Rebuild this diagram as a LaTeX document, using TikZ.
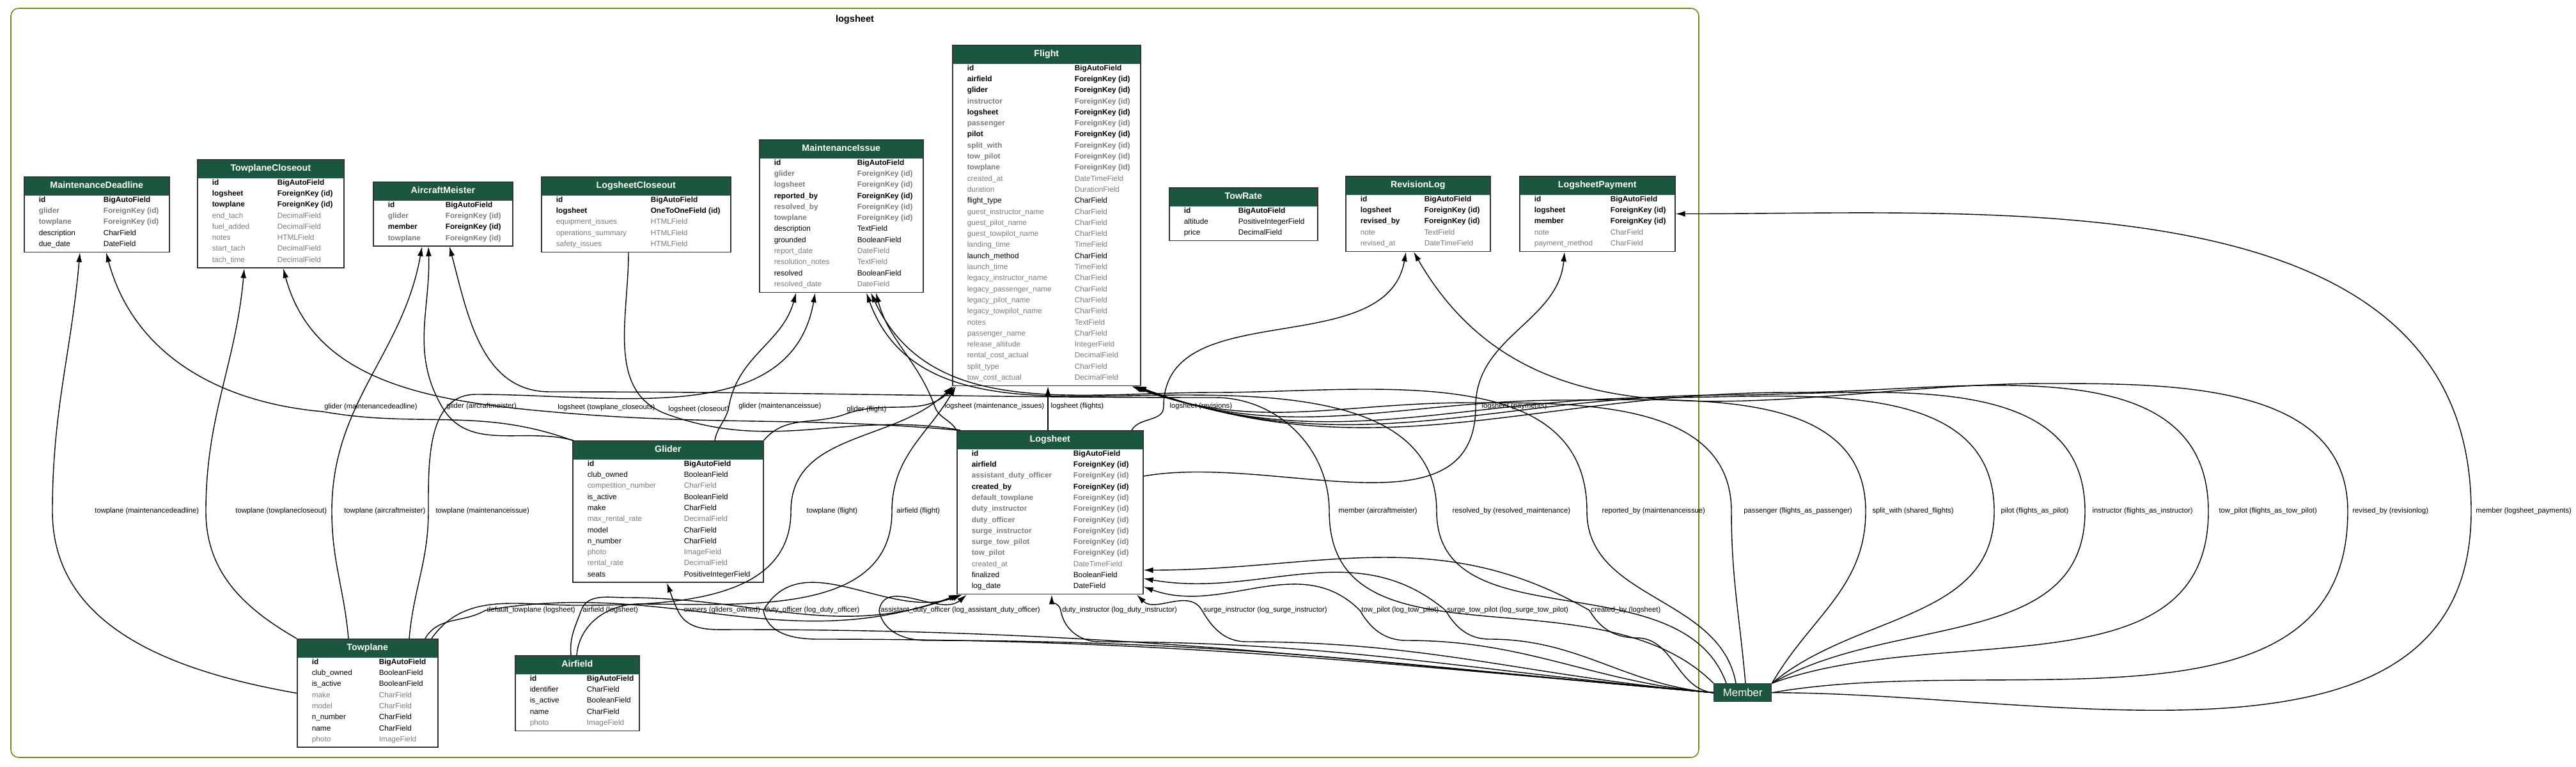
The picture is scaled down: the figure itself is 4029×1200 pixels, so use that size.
\documentclass[tikz,border=0pt]{standalone}
\usepackage{fontspec}
\setmainfont{Liberation Sans}
\usetikzlibrary{arrows.meta}

\definecolor{hdrgreen}{HTML}{1B563F}
\definecolor{fldgray}{HTML}{7B7B7B}
\definecolor{clustergreen}{HTML}{6B8E23}

% one pixel of the layout
\newdimen\pxu \pxu=0.01cm
\newdimen\tabw \newdimen\typeoff
\newcommand\rk{\color{black}\mdseries}
\newcommand\rg{\color{fldgray}\mdseries}
\newcommand\bk{\color{black}\bfseries}
\newcommand\bg{\color{fldgray}\bfseries}
% one field row: style, name, type
\newcommand\fld[3]{\hbox to \tabw{\rule[-6.9\pxu]{0pt}{17.3\pxu}\hskip 23\pxu
  \hbox to \dimexpr\typeoff-23\pxu\relax{#1#2\hss}#1#3\hss}}
% model table: width, type column, title, rows
\newcommand\modeltab[4]{\tabw=#1\pxu \typeoff=#2\pxu
  \vbox{\offinterlineskip\fontsize{3.36pt}{4.8pt}\selectfont
    \hbox to \tabw{\hss\rule[-11\pxu]{0pt}{29\pxu}{\color{white}\fontsize{4.05pt}{4.8pt}\selectfont\bfseries #3}\hss}
    #4
    \hbox{\rule{0pt}{2\pxu}}}}

\begin{document}
\begin{tikzpicture}[x=0.01cm, y=0.01cm]
        % Define block styles
        \tikzstyle{tbl} = [rectangle, draw=black!80, line width=0.45pt, inner sep=0pt,
            anchor=north west, path picture={\fill[hdrgreen] (path picture bounding box.north west)
            rectangle ([yshift=-8.25pt]path picture bounding box.north east);}]
        \tikzstyle{member} = [rectangle, draw=black!80, fill=hdrgreen, text=white, inner sep=0pt,
            anchor=north west, minimum width=0.9cm, minimum height=0.28cm,
            font=\fontsize{4.8pt}{5.6pt}\selectfont]
        \tikzstyle{lbl} = [font=\fontsize{3.2pt}{3.8pt}\selectfont, inner sep=0.5pt, anchor=west]
        \tikzstyle{fk} = [draw, line width=0.4pt, -{Latex[length=0.15cm,width=0.09cm]}]
        \tikzstyle{oto} = [draw, line width=0.4pt]

        \useasboundingbox (0,0) rectangle (4029,-1200);

        % Cluster
        \draw [clustergreen, line width=0.45pt, rounded corners=0.12cm] (17,-13) rectangle (2657,-1185);
        \node [font=\fontsize{4.15pt}{5pt}\selectfont\bfseries] (apptitle) at (1337,-31) {logsheet};

        % Nodes
        \node [tbl] (md) at (37,-276) {\modeltab{227}{124}{MaintenanceDeadline}{%
            \fld\bk{id}{BigAutoField}
            \fld\bg{glider}{ForeignKey (id)}
            \fld\bg{towplane}{ForeignKey (id)}
            \fld\rk{description}{CharField}
            \fld\rk{due\_date}{DateField}}};
        \node [tbl] (tpc) at (308,-249) {\modeltab{229}{125}{TowplaneCloseout}{%
            \fld\bk{id}{BigAutoField}
            \fld\bk{logsheet}{ForeignKey (id)}
            \fld\bk{towplane}{ForeignKey (id)}
            \fld\rg{end\_tach}{DecimalField}
            \fld\rg{fuel\_added}{DecimalField}
            \fld\rg{notes}{HTMLField}
            \fld\rg{start\_tach}{DecimalField}
            \fld\rg{tach\_time}{DecimalField}}};
        \node [tbl] (am) at (583,-284) {\modeltab{218}{113}{AircraftMeister}{%
            \fld\bk{id}{BigAutoField}
            \fld\bg{glider}{ForeignKey (id)}
            \fld\bk{member}{ForeignKey (id)}
            \fld\bg{towplane}{ForeignKey (id)}}};
        \node [tbl] (lsc) at (846,-276) {\modeltab{296}{171}{LogsheetCloseout}{%
            \fld\bk{id}{BigAutoField}
            \fld\bk{logsheet}{OneToOneField (id)}
            \fld\rg{equipment\_issues}{HTMLField}
            \fld\rg{operations\_summary}{HTMLField}
            \fld\rg{safety\_issues}{HTMLField}}};
        \node [tbl] (mi) at (1187,-218) {\modeltab{256}{153}{MaintenanceIssue}{%
            \fld\bk{id}{BigAutoField}
            \fld\bg{glider}{ForeignKey (id)}
            \fld\bg{logsheet}{ForeignKey (id)}
            \fld\bk{reported\_by}{ForeignKey (id)}
            \fld\bg{resolved\_by}{ForeignKey (id)}
            \fld\bg{towplane}{ForeignKey (id)}
            \fld\rk{description}{TextField}
            \fld\rk{grounded}{BooleanField}
            \fld\rg{report\_date}{DateField}
            \fld\rg{resolution\_notes}{TextField}
            \fld\rk{resolved}{BooleanField}
            \fld\rg{resolved\_date}{DateField}}};
        \node [tbl] (fl) at (1489,-70) {\modeltab{294}{191}{Flight}{%
            \fld\bk{id}{BigAutoField}
            \fld\bk{airfield}{ForeignKey (id)}
            \fld\bk{glider}{ForeignKey (id)}
            \fld\bg{instructor}{ForeignKey (id)}
            \fld\bk{logsheet}{ForeignKey (id)}
            \fld\bg{passenger}{ForeignKey (id)}
            \fld\bk{pilot}{ForeignKey (id)}
            \fld\bg{split\_with}{ForeignKey (id)}
            \fld\bg{tow\_pilot}{ForeignKey (id)}
            \fld\bg{towplane}{ForeignKey (id)}
            \fld\rg{created\_at}{DateTimeField}
            \fld\rg{duration}{DurationField}
            \fld\rk{flight\_type}{CharField}
            \fld\rg{guest\_instructor\_name}{CharField}
            \fld\rg{guest\_pilot\_name}{CharField}
            \fld\rg{guest\_towpilot\_name}{CharField}
            \fld\rg{landing\_time}{TimeField}
            \fld\rk{launch\_method}{CharField}
            \fld\rg{launch\_time}{TimeField}
            \fld\rg{legacy\_instructor\_name}{CharField}
            \fld\rg{legacy\_passenger\_name}{CharField}
            \fld\rg{legacy\_pilot\_name}{CharField}
            \fld\rg{legacy\_towpilot\_name}{CharField}
            \fld\rg{notes}{TextField}
            \fld\rg{passenger\_name}{CharField}
            \fld\rg{release\_altitude}{IntegerField}
            \fld\rg{rental\_cost\_actual}{DecimalField}
            \fld\rg{split\_type}{CharField}
            \fld\rg{tow\_cost\_actual}{DecimalField}}};
        \node [tbl] (tr) at (1828,-293) {\modeltab{232}{108}{TowRate}{%
            \fld\bk{id}{BigAutoField}
            \fld\rk{altitude}{PositiveIntegerField}
            \fld\rk{price}{DecimalField}}};
        \node [tbl] (rl) at (2104,-275) {\modeltab{226}{123}{RevisionLog}{%
            \fld\bk{id}{BigAutoField}
            \fld\bk{logsheet}{ForeignKey (id)}
            \fld\bk{revised\_by}{ForeignKey (id)}
            \fld\rg{note}{TextField}
            \fld\rg{revised\_at}{DateTimeField}}};
        \node [tbl] (lsp) at (2376,-275) {\modeltab{243}{142}{LogsheetPayment}{%
            \fld\bk{id}{BigAutoField}
            \fld\bk{logsheet}{ForeignKey (id)}
            \fld\bk{member}{ForeignKey (id)}
            \fld\rg{note}{CharField}
            \fld\rg{payment\_method}{CharField}}};
        \node [tbl] (gl) at (895,-689) {\modeltab{298}{174}{Glider}{%
            \fld\bk{id}{BigAutoField}
            \fld\rk{club\_owned}{BooleanField}
            \fld\rg{competition\_number}{CharField}
            \fld\rk{is\_active}{BooleanField}
            \fld\rk{make}{CharField}
            \fld\rg{max\_rental\_rate}{DecimalField}
            \fld\rk{model}{CharField}
            \fld\rk{n\_number}{CharField}
            \fld\rg{photo}{ImageField}
            \fld\rg{rental\_rate}{DecimalField}
            \fld\rk{seats}{PositiveIntegerField}}};
        \node [tbl] (ls) at (1496,-673) {\modeltab{291}{182}{Logsheet}{%
            \fld\bk{id}{BigAutoField}
            \fld\bk{airfield}{ForeignKey (id)}
            \fld\bg{assistant\_duty\_officer}{ForeignKey (id)}
            \fld\bk{created\_by}{ForeignKey (id)}
            \fld\bg{default\_towplane}{ForeignKey (id)}
            \fld\bg{duty\_instructor}{ForeignKey (id)}
            \fld\bg{duty\_officer}{ForeignKey (id)}
            \fld\bg{surge\_instructor}{ForeignKey (id)}
            \fld\bg{surge\_tow\_pilot}{ForeignKey (id)}
            \fld\bg{tow\_pilot}{ForeignKey (id)}
            \fld\rg{created\_at}{DateTimeField}
            \fld\rk{finalized}{BooleanField}
            \fld\rk{log\_date}{DateField}}};
        \node [tbl] (tp) at (464,-999) {\modeltab{220}{128}{Towplane}{%
            \fld\bk{id}{BigAutoField}
            \fld\rk{club\_owned}{BooleanField}
            \fld\rk{is\_active}{BooleanField}
            \fld\rg{make}{CharField}
            \fld\rg{model}{CharField}
            \fld\rk{n\_number}{CharField}
            \fld\rk{name}{CharField}
            \fld\rg{photo}{ImageField}}};
        \node [tbl] (af) at (805,-1025) {\modeltab{194}{112}{Airfield}{%
            \fld\bk{id}{BigAutoField}
            \fld\rk{identifier}{CharField}
            \fld\rk{is\_active}{BooleanField}
            \fld\rk{name}{CharField}
            \fld\rg{photo}{ImageField}}};
        \node [member] (mb) at (2680,-1069) {Member};

        % Arrows from Towplane
        \path [fk] (tp.west) to[out=170,in=-90] (82,-800) node[lbl,xshift=18.2pt] {towplane (maintenancedeadline)} to[out=90,in=-95] (md.south -| 125,0);
        \path [fk] (tp.north west) to[out=150,in=-90] (322,-800) node[lbl,xshift=12.5pt] {towplane (towplanecloseout)} to[out=90,in=-95] (tpc.south -| 382,0);
        \path [fk] (tp.north -| 545,0) to[out=95,in=-90] (519,-800) node[lbl,xshift=4.8pt] {towplane (aircraftmeister)} to[out=90,in=-100] (am.south -| 660,0);
        \path [fk] (tp.north -| 640,0) to[out=85,in=-90] (670,-800) node[lbl,xshift=2.6pt] {towplane (maintenanceissue)} to[out=90,in=180] (745,-617) to[out=0,in=-100] (mi.south -| 1275,0);
        \path [fk] (tp.north -| 675,0) to[out=55,in=180] (900,-947) to[out=0,in=-90] (1237,-800) node[lbl,xshift=6.3pt] {towplane (flight)} to[out=90,in=-135] (fl.south -| 1490,0);
        \path [fk] (tp.north -| 665,0) to[out=60,in=-150] (759,-955) node[lbl] {default\_towplane (logsheet)} to[out=10,in=-160] (ls.south -| 1499,0);

        % Arrows from Airfield
        \path [fk] (af.north -| 893,0) to[out=95,in=-110] (909,-955) node[lbl] {airfield (logsheet)} to[out=70,in=180] (980,-935) to[out=0,in=-160] (ls.south -| 1502,0);
        \path [fk] (af.north -| 902,0) to[out=85,in=180] (1000,-945) to[out=0,in=-90] (1395,-800) node[lbl,xshift=1.4pt] {airfield (flight)} to[out=90,in=-120] (fl.south -| 1495,0);

        % Arrows from Glider
        \path [fk] (gl.north west) to[out=160,in=-10] (505,-644) node[lbl,anchor=south west] {glider (maintenancedeadline)} to[out=175,in=-75] (md.south -| 166,0);
        \path [fk] (gl.north -| 897,0) to[out=165,in=-60] (691,-636) node[lbl,xshift=1.4pt] {glider (aircraftmeister)} to[out=120,in=-88] (am.south -| 670,0);
        \path [fk] (gl.north -| 1118,0) to[out=80,in=-100] (1140,-636) node[lbl,xshift=3.7pt] {glider (maintenanceissue)} to[out=80,in=-105] (mi.south -| 1245,0);
        \path [fk] (gl.north east) to[out=50,in=-160] (1322,-648) node[lbl,anchor=south west] {glider (flight)} to[out=20,in=-135] (fl.south -| 1493,0);

        % Arrows from Logsheet
        \path [fk] (ls.north -| 1498,0) to[out=175,in=-5] (870,-645) node[lbl,anchor=south west] {logsheet (towplane\_closeouts)} to[out=175,in=-75] (tpc.south -| 443,0);
        \path [oto] (ls.north -| 1502,0) to[out=170,in=-20] (1043,-648) node[lbl,anchor=south west] {logsheet (closeout)} to[out=160,in=-90] (lsc.south -| 983,0);
        \path [fk] (ls.north west) to[out=120,in=-70] (1462,-636) node[lbl,xshift=3.7pt] {logsheet (maintenance\_issues)} to[out=110,in=-75] (mi.south -| 1370,0);
        \path [fk] (ls.north -| 1639,0) -- (1639,-636) node[lbl,xshift=0.6pt] {logsheet (flights)} -- (fl.south -| 1639,0);
        \path [fk] (ls.north -| 1770,0) to[out=60,in=-90] (1820,-636) node[lbl,xshift=2pt] {logsheet (revisions)} to[out=90,in=-100] (rl.south -| 2199,0);
        \path [fk] (ls.east |- 0,-745) to[out=10,in=-90] (2308,-636) node[lbl,xshift=2pt] {logsheet (payments)} to[out=90,in=-95] (lsp.south -| 2447,0);

        % Arrows from Member, upwards
        \path [fk] (mb.north west) to[out=135,in=-90] (2079,-800) node[lbl,xshift=3.4pt] {member (aircraftmeister)} to[out=90,in=0] (1900,-622) to[out=180,in=0] (860,-613) to[out=180,in=-75] (am.south -| 703,0);
        \path [fk] (mb.north -| 2700,0) to[out=110,in=-90] (2247,-800) node[lbl,xshift=6.3pt] {resolved\_by (resolved\_maintenance)} to[out=90,in=0] (1850,-618) to[out=180,in=-70] (mi.south -| 1355,0);
        \path [fk] (mb.north -| 2715,0) to[out=100,in=-90] (2482,-800) node[lbl,xshift=6pt] {reported\_by (maintenanceissue)} to[out=90,in=0] (1900,-614) to[out=180,in=-65] (mi.south -| 1362,0);
        \path [fk] (mb.north -| 2730,0) to[out=95,in=-90] (2708,-800) node[lbl,xshift=4.8pt] {passenger (flights\_as\_passenger)} to[out=90,in=0] (2300,-630) to[out=180,in=-20] (fl.south -| 1770,0);
        \path [fk] (mb.north east) to[out=60,in=-90] (2918,-800) node[lbl,xshift=2.3pt] {split\_with (shared\_flights)} to[out=90,in=0] (2450,-626) to[out=180,in=-20] (fl.south -| 1772,0);
        \path [fk] (mb.north east) to[out=40,in=-90] (3119,-800) node[lbl,xshift=2.3pt] {pilot (flights\_as\_pilot)} to[out=90,in=0] (2600,-622) to[out=180,in=-20] (fl.south -| 1774,0);
        \path [fk] (mb.north east) to[out=30,in=-90] (3261,-800) node[lbl,xshift=2.6pt] {instructor (flights\_as\_instructor)} to[out=90,in=0] (2700,-618) to[out=180,in=-20] (fl.south -| 1776,0);
        \path [fk] (mb.north east) to[out=20,in=-90] (3454,-800) node[lbl,xshift=4pt] {tow\_pilot (flights\_as\_tow\_pilot)} to[out=90,in=0] (2800,-614) to[out=180,in=-20] (fl.south -| 1778,0);
        \path [fk] (mb.east) to[out=10,in=-90] (3672,-800) node[lbl,xshift=1.4pt] {revised\_by (revisionlog)} to[out=90,in=0] (3200,-600) to[out=180,in=-60] (rl.south -| 2211,0);
        \path [fk] (mb.east) to[out=0,in=-90] (3865,-800) node[lbl,xshift=1.4pt] {member (logsheet\_payments)} to[out=90,in=0] (lsp.east);

        % Arrows from Member, along the bottom
        \path [fk] (mb.west) to[out=175,in=0] (1150,-985) to[out=180,in=-65] (1060,-955) node[lbl,xshift=2pt] {owners (gliders\_owned)} to[out=115,in=-70] (gl.south -| 1043,0);
        \path [fk] (mb.west) to[out=175,in=0] (1280,-1000) to[out=180,in=-80] (1194,-955) node[lbl] {duty\_officer (log\_duty\_officer)} to[out=60,in=-160] (ls.south -| 1505,0);
        \path [fk] (mb.west) to[out=175,in=0] (1450,-1002) to[out=180,in=-80] (1375,-955) node[lbl] {assistant\_duty\_officer (log\_assistant\_duty\_officer)} to[out=80,in=-140] (ls.south -| 1512,0);
        \path [fk] (mb.west) to[out=175,in=0] (1720,-1004) to[out=180,in=-80] (1659,-955) node[lbl] {duty\_instructor (log\_duty\_instructor)} to[out=100,in=-90] (ls.south -| 1645,0);
        \path [fk] (mb.west) to[out=175,in=0] (1950,-1004) to[out=180,in=-60] (1880,-955) node[lbl] {surge\_instructor (log\_surge\_instructor)} to[out=120,in=-45] (ls.south -| 1778,0);
        \path [fk] (mb.west) to[out=175,in=0] (2200,-1002) to[out=180,in=-60] (2127,-955) node[lbl] {tow\_pilot (log\_tow\_pilot)} to[out=135,in=-20] (ls.east |- 0,-918);
        \path [fk] (mb.west) to[out=175,in=0] (2330,-1000) to[out=180,in=-60] (2261,-955) node[lbl] {surge\_tow\_pilot (log\_surge\_tow\_pilot)} to[out=140,in=-10] (ls.east |- 0,-905);
        \path [fk] (mb.west) to[out=175,in=0] (2560,-998) to[out=180,in=-60] (2486,-955) node[lbl] {created\_by (logsheet)} to[out=150,in=0] (ls.east |- 0,-892);
\end{tikzpicture}
\end{document}
